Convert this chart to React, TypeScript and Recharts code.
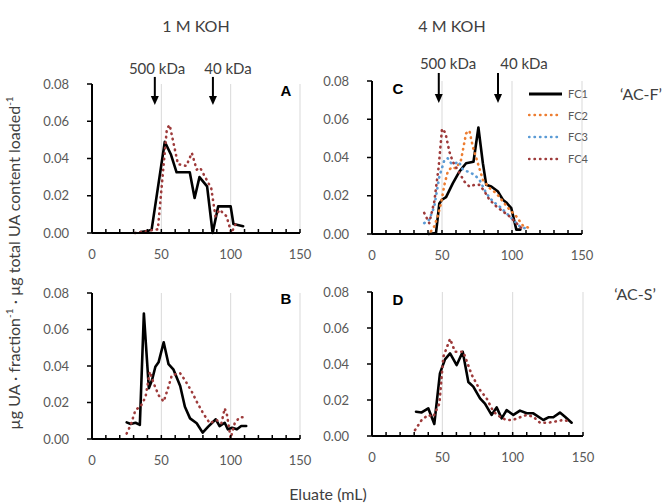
import { LineChart, Line, XAxis, YAxis, ReferenceLine, Legend } from 'recharts';

// elution profiles, [eluate mL, µg UA fraction-1 µg total UA loaded-1]
const aFc1 = [[35, 0.0005], [40, 0.001], [43, 0.0018], [52.5, 0.049], [57, 0.042], [61, 0.0326], [70.5, 0.0326], [74, 0.0188], [77.5, 0.03], [83, 0.025], [87, 0], [91, 0.0143], [100, 0.0143], [102, 0.0048], [109, 0.0036]];
const aFc4 = [[31, 0], [39, 0.001], [47.5, 0.002], [54, 0.056], [56, 0.058], [62, 0.037], [68, 0.036], [72, 0.043], [75.5, 0.034], [78, 0.035], [86, 0.024], [89, 0.009], [92, 0.0125], [97, 0.009], [100.5, 0], [104, 0.0054]];

const cFc1 = [[40.4, 0], [45.7, 0.0005], [48.1, 0.016], [50, 0.0179], [52.9, 0.0193], [57.7, 0.0265], [62.4, 0.0326], [67.2, 0.037], [72.5, 0.0378], [76, 0.0557], [79.2, 0.037], [81.6, 0.0257], [85.2, 0.0248], [90, 0.0222], [93.5, 0.0179], [95.9, 0.0165], [99.5, 0.0135], [103.1, 0.0023], [106, 0.0023]];
const cFc2 = [[42.1, 0.0014], [44.5, 0.004], [46.9, 0.0092], [49.3, 0.016], [51.7, 0.0257], [54.1, 0.0326], [56.9, 0.035], [60, 0.0343], [63.6, 0.0387], [67.2, 0.0526], [69.6, 0.054], [72, 0.0456], [75.6, 0.037], [79.2, 0.0283], [84, 0.024], [88.8, 0.0213], [93.5, 0.017], [98.3, 0.0127], [103.1, 0.0092], [107.9, 0.0043], [112.7, 0.0031]];
const cFc3 = [[37.3, 0.0057], [40.9, 0.0075], [44.5, 0.0144], [48.1, 0.03], [51.7, 0.0387], [54.1, 0.0396], [56.5, 0.037], [59.6, 0.037], [62, 0.0378], [64.8, 0.0338], [68.4, 0.0326], [73.2, 0.031], [76.8, 0.0283], [81.6, 0.0213], [86.4, 0.017], [91.1, 0.0144], [95.9, 0.011], [100.7, 0.0075], [105.5, 0.004], [109, 0.0031]];
const cFc4 = [[37.3, 0.011], [40.9, 0.0057], [44.5, 0.017], [47.6, 0.035], [50, 0.055], [52.4, 0.053], [55.3, 0.043], [57.7, 0.0378], [61.2, 0.0335], [66, 0.0274], [69.6, 0.0248], [73.2, 0.0257], [76.8, 0.0257], [80.4, 0.0222], [83.9, 0.0179], [88.8, 0.0144], [93.5, 0.0118], [98.3, 0.0092], [103.1, 0.0057], [107.9, 0.0023]];

const bFc1 = [[25, 0.0091], [27.9, 0.0082], [31.4, 0.0089], [34.5, 0.0077], [37.4, 0.0688], [41, 0.0278], [43.3, 0.0323], [45.7, 0.0396], [48, 0.042], [51.7, 0.053], [55.2, 0.041], [58.8, 0.038], [63.6, 0.029], [67, 0.0177], [70.7, 0.0113], [75.5, 0.0086], [79.8, 0.0035], [83.8, 0.0068], [89.3, 0.0108], [92, 0.0071], [95.7, 0.0089], [98, 0.0053], [101, 0.0062], [104.5, 0.0053], [107.6, 0.0071], [111.2, 0.0071]];
const bFc4 = [[25, 0.003], [27.9, 0.0077], [31.4, 0.016], [35, 0.0177], [38.6, 0.023], [41.7, 0.0369], [44.5, 0.0305], [48, 0.024], [51.7, 0.0205], [55.2, 0.0287], [57.6, 0.035], [63.6, 0.036], [67, 0.0323], [71.9, 0.026], [75.5, 0.0205], [80.2, 0.014], [85, 0.0086], [89.8, 0.0104], [93.3, 0.0086], [95.7, 0.0168], [97.4, 0.013], [100, 0.0004], [102.9, 0.0086], [106.4, 0.0119], [111.2, 0.0119]];

const dFc1 = [[31.3, 0.0135], [35.3, 0.0131], [40, 0.0154], [44.3, 0.0067], [48.3, 0.0348], [51.9, 0.0426], [55.5, 0.0459], [60.2, 0.0394], [64.5, 0.0468], [68.5, 0.03], [72, 0.0274], [76.8, 0.0209], [80.3, 0.018], [85, 0.0117], [88.6, 0.0159], [92.2, 0.0098], [95.7, 0.0144], [100.5, 0.0117], [105.2, 0.0141], [110, 0.0126], [114.7, 0.0126], [121.8, 0.0089], [125.4, 0.0104], [128.9, 0.0104], [133.6, 0.013], [137.2, 0.0107], [141.9, 0.0074]];
const dFc4 = [[30.6, 0.0033], [35.3, 0.0089], [40, 0.0117], [43.6, 0.0107], [47.9, 0.018], [50.7, 0.044], [55.5, 0.054], [59, 0.0468], [64.9, 0.0468], [70.9, 0.034], [76.8, 0.0255], [81.5, 0.0209], [86.3, 0.0135], [91, 0.0107], [95.3, 0.0089], [100, 0.0089], [105.2, 0.0104], [110, 0.0117], [114.7, 0.0107], [119.4, 0.0074], [125.4, 0.0074], [130, 0.008], [136, 0.0089], [140.8, 0.008]];

// size markers (mL)
const markersA = [45.3, 87.2];
const markersC = [47.7, 90];
const markerNames = ['500 kDa', '40 kDa'];

const xTicks = [0, 10, 20, 30, 40, 50, 60, 70, 80, 90, 100, 110, 120, 130, 140, 150];
const yTicks = [0, 0.02, 0.04, 0.06, 0.08];
const gridX = [50, 100, 150];

const colors = { FC1: '#000000', FC2: '#ED7D31', FC3: '#5B9BD5', FC4: '#9E3B3B' };

const rows = (pts) => pts.map(([x, y]) => ({ x, y }));

const Y_W = 50;
const M_T = 20;
const M_R = 20;
const X_H = 40;
const tickFill = '#595959';

const XTick = (props) => {
    const { x, y, payload } = props;
    return (
        <g>
            <line x1={x} x2={x} y1={y} y2={y - 4} stroke="#000" strokeWidth={1.5} />
            {payload.value % 50 === 0 && (
                <text x={x} y={y + 21} textAnchor="middle" dominantBaseline="central" fill={tickFill} fontSize={13} fontFamily="Lato">
                    {payload.value}
                </text>
            )}
        </g>
    );
};

const Arrow = (props) => {
    const { x1, y1, x2, y2 } = props;
    const top = Math.min(y1, y2);
    const tip = Math.max(y1, y2);
    const x = (x1 + x2) / 2;
    return (
        <g>
            <line x1={x} x2={x} y1={top} y2={tip - 7} stroke="#000" strokeWidth={2} />
            <polygon points={`${x - 4},${tip - 9} ${x + 4},${tip - 9} ${x},${tip}`} fill="#000" />
        </g>
    );
};

const LegendBox = ({ payload }) => (
    <div style={{ fontFamily: 'Lato', fontSize: 11, color: '#595959' }}>
        {(payload || []).map((e) => (
            <div key={e.value} style={{ display: 'flex', alignItems: 'center', height: 21.6 }}>
                <svg width={36} height={6}>
                    <line
                        x1={1}
                        x2={34}
                        y1={3}
                        y2={3}
                        stroke={e.color}
                        strokeWidth={e.value === 'FC1' ? 2.8 : 2.4}
                        strokeDasharray={e.value === 'FC1' ? undefined : '0.5 5'}
                        strokeLinecap={e.value === 'FC1' ? 'butt' : 'round'}
                    />
                </svg>
                <span style={{ marginLeft: 4 }}>{e.value}</span>
            </div>
        ))}
    </div>
);

function Panel({ box, series, markers, arrowTop, arrowTip, legend }) {
    const W = box.width + Y_W + M_R;
    const H = box.height + M_T + X_H;
    return (
        <div style={{ position: 'absolute', left: box.left - Y_W, top: box.top - M_T }}>
            <LineChart width={W} height={H} margin={{ top: M_T, right: M_R, bottom: 0, left: 0 }}>
                <XAxis
                    type="number"
                    dataKey="x"
                    domain={[0, 150]}
                    ticks={xTicks}
                    interval={0}
                    height={X_H}
                    tickSize={0}
                    tickMargin={0}
                    tick={<XTick />}
                    axisLine={{ stroke: '#000', strokeWidth: 2 }}
                    allowDuplicatedCategory={false}
                />
                <YAxis
                    type="number"
                    domain={[0, 0.08]}
                    ticks={yTicks}
                    interval={0}
                    width={Y_W}
                    tickSize={5}
                    tickMargin={18}
                    tickFormatter={(v) => v.toFixed(2)}
                    tick={{ fill: tickFill, fontSize: 13, fontFamily: 'Lato' }}
                    tickLine={{ stroke: '#000', strokeWidth: 1.5 }}
                    axisLine={{ stroke: '#000', strokeWidth: 2 }}
                />
                {gridX.map((v) => (
                    <ReferenceLine key={v} x={v} stroke="#d9d9d9" strokeWidth={1} />
                ))}
                {series.map((s) => (
                    <Line
                        key={s.name}
                        name={s.name}
                        data={rows(s.data)}
                        dataKey="y"
                        type="linear"
                        stroke={colors[s.name]}
                        strokeWidth={s.name === 'FC1' ? 2.6 : 2.6}
                        strokeDasharray={s.name === 'FC1' ? undefined : '0.5 5'}
                        strokeLinecap="round"
                        strokeLinejoin="round"
                        dot={false}
                        isAnimationActive={false}
                    />
                ))}
                {(markers || []).map((m) => (
                    <ReferenceLine
                        key={m}
                        segment={[{ x: m, y: arrowTop }, { x: m, y: arrowTip }]}
                        ifOverflow="visible"
                        shape={<Arrow />}
                    />
                ))}
                {legend && (
                    <Legend
                        layout="vertical"
                        align="center"
                        verticalAlign="middle"
                        wrapperStyle={{ left: 206, top: 22, width: 80 }}
                        content={<LegendBox />}
                    />
                )}
            </LineChart>
        </div>
    );
}

const Txt = ({ x, y, size = 16, weight = 400, family = 'Lato', color = '#404040', children }) => (
    <div
        style={{
            position: 'absolute',
            left: x,
            top: y,
            transform: 'translate(-50%, -50%)',
            whiteSpace: 'nowrap',
            fontSize: size,
            fontWeight: weight,
            fontFamily: family,
            color,
        }}
    >
        {children}
    </div>
);

export default function App() {
    return (
        <div style={{ position: 'absolute', left: 0, top: 0, width: 665, height: 503, background: '#fff', fontFamily: 'Lato' }}>
            <Txt x={196} y={25}>1 M KOH</Txt>
            <Txt x={452} y={25}>4 M KOH</Txt>

            <Txt x={157} y={68} size={15}>{markerNames[0]}</Txt>
            <Txt x={228} y={68} size={15}>{markerNames[1]}</Txt>
            <Txt x={448} y={63} size={15}>{markerNames[0]}</Txt>
            <Txt x={524} y={63} size={15}>{markerNames[1]}</Txt>

            <Panel
                box={{ left: 92, top: 84, width: 208, height: 149 }}
                series={[{ name: 'FC1', data: aFc1 }, { name: 'FC4', data: aFc4 }]}
                markers={markersA}
                arrowTop={0.0838}
                arrowTip={0.0687}
            />
            <Panel
                box={{ left: 372, top: 81, width: 210, height: 153 }}
                series={[
                    { name: 'FC1', data: cFc1 },
                    { name: 'FC2', data: cFc2 },
                    { name: 'FC3', data: cFc3 },
                    { name: 'FC4', data: cFc4 },
                ]}
                markers={markersC}
                arrowTop={0.0842}
                arrowTip={0.0685}
                legend
            />
            <Panel
                box={{ left: 92, top: 293, width: 208, height: 146 }}
                series={[{ name: 'FC1', data: bFc1 }, { name: 'FC4', data: bFc4 }]}
            />
            <Panel
                box={{ left: 372, top: 292, width: 211, height: 144 }}
                series={[{ name: 'FC1', data: dFc1 }, { name: 'FC4', data: dFc4 }]}
            />

            <Txt x={286} y={90} size={15} weight={700} family="Liberation Sans" color="#000">A</Txt>
            <Txt x={286} y={298} size={15} weight={700} family="Liberation Sans" color="#000">B</Txt>
            <Txt x={398} y={88} size={15} weight={700} family="Liberation Sans" color="#000">C</Txt>
            <Txt x={398} y={299} size={15} weight={700} family="Liberation Sans" color="#000">D</Txt>

            <Txt x={641} y={93}>‘AC-F’</Txt>
            <Txt x={635} y={293}>‘AC-S’</Txt>

            <div
                style={{
                    position: 'absolute',
                    left: 13,
                    top: 263,
                    transform: 'translate(-50%, -50%) rotate(-90deg)',
                    whiteSpace: 'nowrap',
                    fontSize: 16,
                    color: '#404040',
                }}
            >
                µg UA · fraction<sup style={{ fontSize: 10 }}>-1</sup> · µg total UA content loaded<sup style={{ fontSize: 10 }}>-1</sup>
            </div>

            <Txt x={328} y={493} size={16}>Eluate (mL)</Txt>
        </div>
    );
}
